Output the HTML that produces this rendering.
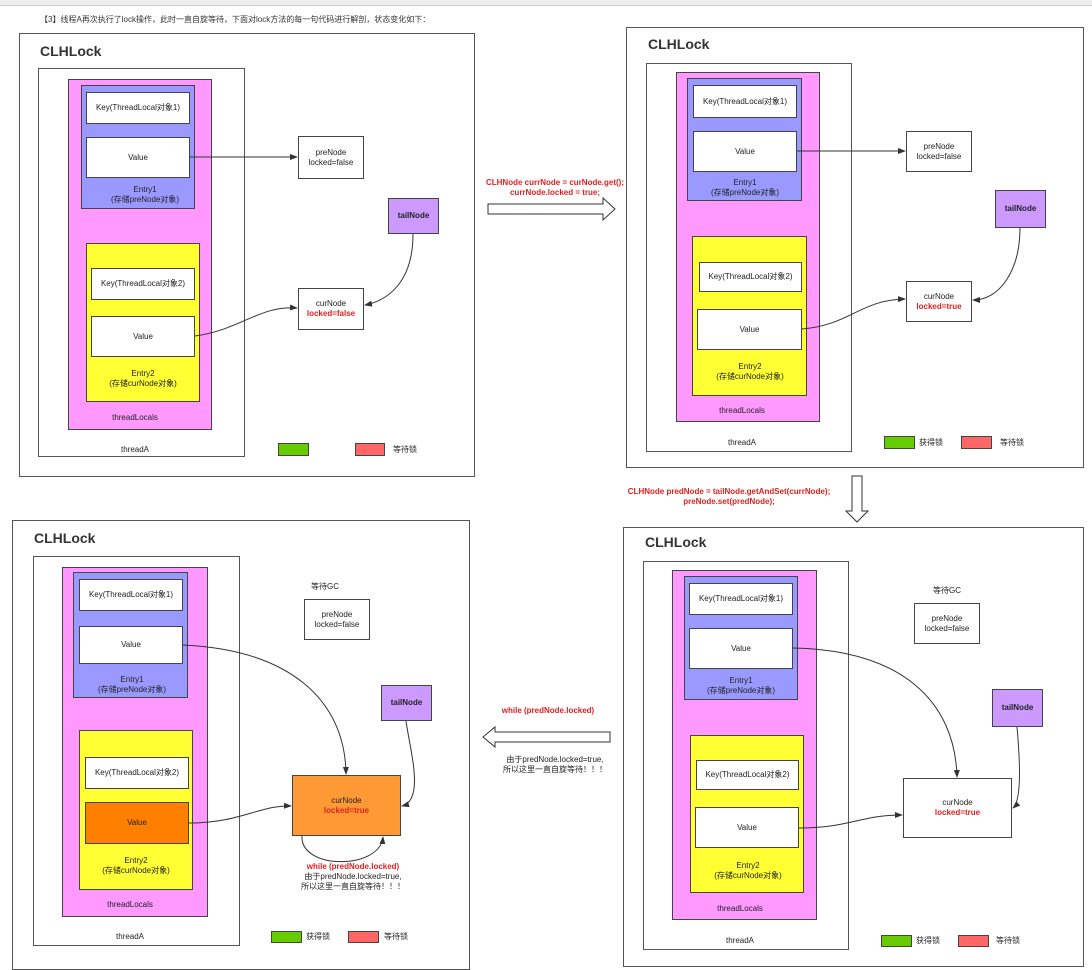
<!DOCTYPE html>
<html><head><meta charset="utf-8"><style>
body{margin:0;width:1092px;height:956px;background:#fff;position:relative;overflow:hidden;font-family:"Liberation Sans","Noto Sans CJK SC",sans-serif;color:#222}
.b{position:absolute;box-sizing:border-box;border:1px solid #444;display:flex;align-items:center;justify-content:center;text-align:center;font-size:8px;line-height:10px}
.o{border:1px solid #555;background:#fff}
.t{position:absolute;font-size:8px;line-height:10px;text-align:center;white-space:nowrap;transform:translateX(-50%)}
.h{position:absolute;font-size:14px;font-weight:bold;color:#333}
.pk{background:#ff99ff}.bl{background:#9999ff}.ye{background:#ffff33}.w{background:#fff}.pu{background:#cc99ff}
.r{color:#e02020;font-weight:bold}
svg{position:absolute;left:0;top:0}
</style></head><body>
<div style="position:absolute;left:0;top:0;width:1092px;height:5px;background:#eee;border-bottom:1px solid #ccc"></div>
<div style="position:absolute;left:40px;top:14px;font-size:8px;color:#333">【3】线程A再次执行了lock操作，此时一直自旋等待，下面对lock方法的每一句代码进行解剖，状态变化如下：</div>

<!-- Panel 1 -->
<div class="b o" style="left:19px;top:33px;width:456px;height:444px"></div>
<div class="h" style="left:40px;top:43px">CLHLock</div>
<div class="b o" style="left:38px;top:68px;width:207px;height:389px"></div>
<div class="b pk" style="left:68px;top:79px;width:144px;height:351px"></div>
<div class="b bl" style="left:81px;top:85px;width:114px;height:124px"></div>
<div class="b w" style="left:86px;top:92px;width:104px;height:32px">Key(ThreadLocal对象1)</div>
<div class="b w" style="left:86px;top:137px;width:104px;height:41px">Value</div>
<div class="t" style="left:145px;top:185px">Entry1<br>(存储preNode对象)</div>
<div class="b ye" style="left:86px;top:243px;width:114px;height:159px"></div>
<div class="b w" style="left:91px;top:268px;width:104px;height:32px">Key(ThreadLocal对象2)</div>
<div class="b w" style="left:91px;top:316px;width:104px;height:41px">Value</div>
<div class="t" style="left:143px;top:369px">Entry2<br>(存储curNode对象)</div>
<div class="t" style="left:135px;top:413px">threadLocals</div>
<div class="t" style="left:135px;top:445px">threadA</div>
<div class="b w" style="left:298px;top:136px;width:66px;height:43px"><div>preNode<br>locked=false</div></div>
<div class="b pu" style="left:388px;top:198px;width:51px;height:36px"><b>tailNode</b></div>
<div class="b w" style="left:298px;top:288px;width:66px;height:42px"><div>curNode<br><span class="r">locked=false</span></div></div>
<div class="b" style="left:278px;top:443px;width:31px;height:13px;background:#66cc00"></div>
<div class="b" style="left:355px;top:443px;width:30px;height:13px;background:#ff6666"></div>
<div class="t" style="left:405px;top:445px">等待锁</div>

<!-- Panel 2 -->
<div class="b o" style="left:626px;top:27px;width:458px;height:441px"></div>
<div class="h" style="left:648px;top:36px">CLHLock</div>
<div class="b o" style="left:646px;top:63px;width:206px;height:389px"></div>
<div class="b pk" style="left:676px;top:72px;width:144px;height:350px"></div>
<div class="b bl" style="left:687px;top:78px;width:115px;height:123px"></div>
<div class="b w" style="left:693px;top:85px;width:104px;height:33px">Key(ThreadLocal对象1)</div>
<div class="b w" style="left:693px;top:131px;width:104px;height:41px">Value</div>
<div class="t" style="left:745px;top:178px">Entry1<br>(存储preNode对象)</div>
<div class="b ye" style="left:692px;top:236px;width:115px;height:160px"></div>
<div class="b w" style="left:699px;top:262px;width:103px;height:30px">Key(ThreadLocal对象2)</div>
<div class="b w" style="left:697px;top:309px;width:105px;height:41px">Value</div>
<div class="t" style="left:750px;top:362px">Entry2<br>(存储curNode对象)</div>
<div class="t" style="left:742px;top:406px">threadLocals</div>
<div class="t" style="left:742px;top:438px">threadA</div>
<div class="b w" style="left:906px;top:131px;width:66px;height:41px"><div>preNode<br>locked=false</div></div>
<div class="b pu" style="left:995px;top:190px;width:51px;height:38px"><b>tailNode</b></div>
<div class="b w" style="left:906px;top:281px;width:66px;height:41px"><div>curNode<br><span class="r">locked=true</span></div></div>
<div class="b" style="left:884px;top:436px;width:31px;height:13px;background:#66cc00"></div>
<div class="t" style="left:931px;top:438px">获得锁</div>
<div class="b" style="left:961px;top:436px;width:31px;height:13px;background:#ff6666"></div>
<div class="t" style="left:1012px;top:438px">等待锁</div>

<div class="t r" style="left:555px;top:178px">CLHNode currNode = curNode.get();<br>currNode.locked = true;</div>
<div class="t r" style="left:729px;top:487px">CLHNode predNode = tailNode.getAndSet(currNode);<br>preNode.set(predNode);</div>
<div class="t r" style="left:548px;top:706px">while (predNode.locked)</div>
<div class="t" style="left:555px;top:755px">由于predNode.locked=true,<br>所以这里一直自旋等待！！！</div>

<!-- Panel 4 -->
<div class="b o" style="left:623px;top:527px;width:461px;height:440px"></div>
<div class="h" style="left:645px;top:534px">CLHLock</div>
<div class="b o" style="left:643px;top:561px;width:206px;height:389px"></div>
<div class="b pk" style="left:672px;top:570px;width:145px;height:350px"></div>
<div class="b bl" style="left:684px;top:576px;width:114px;height:124px"></div>
<div class="b w" style="left:689px;top:583px;width:104px;height:32px">Key(ThreadLocal对象1)</div>
<div class="b w" style="left:689px;top:628px;width:104px;height:41px">Value</div>
<div class="t" style="left:741px;top:676px">Entry1<br>(存储preNode对象)</div>
<div class="b ye" style="left:690px;top:735px;width:114px;height:158px"></div>
<div class="b w" style="left:696px;top:760px;width:103px;height:30px">Key(ThreadLocal对象2)</div>
<div class="b w" style="left:695px;top:807px;width:104px;height:41px">Value</div>
<div class="t" style="left:748px;top:861px">Entry2<br>(存储curNode对象)</div>
<div class="t" style="left:740px;top:904px">threadLocals</div>
<div class="t" style="left:740px;top:936px">threadA</div>
<div class="t" style="left:947px;top:586px">等待GC</div>
<div class="b w" style="left:914px;top:603px;width:66px;height:41px"><div>preNode<br>locked=false</div></div>
<div class="b pu" style="left:992px;top:689px;width:51px;height:38px"><b>tailNode</b></div>
<div class="b w" style="left:903px;top:778px;width:109px;height:60px"><div>curNode<br><span class="r">locked=true</span></div></div>
<div class="b" style="left:881px;top:935px;width:31px;height:12px;background:#66cc00"></div>
<div class="t" style="left:928px;top:936px">获得锁</div>
<div class="b" style="left:958px;top:935px;width:31px;height:12px;background:#ff6666"></div>
<div class="t" style="left:1008px;top:936px">等待锁</div>

<!-- Panel 3 -->
<div class="b o" style="left:12px;top:520px;width:458px;height:450px"></div>
<div class="h" style="left:34px;top:530px">CLHLock</div>
<div class="b o" style="left:33px;top:556px;width:207px;height:390px"></div>
<div class="b pk" style="left:62px;top:567px;width:146px;height:350px"></div>
<div class="b bl" style="left:73px;top:572px;width:115px;height:126px"></div>
<div class="b w" style="left:79px;top:579px;width:104px;height:32px">Key(ThreadLocal对象1)</div>
<div class="b w" style="left:79px;top:626px;width:104px;height:38px">Value</div>
<div class="t" style="left:132px;top:675px">Entry1<br>(存储preNode对象)</div>
<div class="b ye" style="left:79px;top:730px;width:114px;height:160px"></div>
<div class="b w" style="left:85px;top:757px;width:104px;height:32px">Key(ThreadLocal对象2)</div>
<div class="b" style="left:85px;top:802px;width:104px;height:42px;background:#ff8000">Value</div>
<div class="t" style="left:136px;top:856px">Entry2<br>(存储curNode对象)</div>
<div class="t" style="left:130px;top:900px">threadLocals</div>
<div class="t" style="left:130px;top:932px">threadA</div>
<div class="t" style="left:325px;top:582px">等待GC</div>
<div class="b w" style="left:304px;top:599px;width:66px;height:41px"><div>preNode<br>locked=false</div></div>
<div class="b pu" style="left:381px;top:685px;width:51px;height:36px"><b>tailNode</b></div>
<div class="b" style="left:292px;top:775px;width:109px;height:61px;background:#ff9933"><div>curNode<br><span class="r">locked=true</span></div></div>
<div class="t" style="left:353px;top:862px"><span class="r">while (predNode.locked)</span><br>由于predNode.locked=true,<br>所以这里一直自旋等待！！！</div>
<div class="b" style="left:271px;top:931px;width:31px;height:12px;background:#66cc00"></div>
<div class="t" style="left:318px;top:932px">获得锁</div>
<div class="b" style="left:348px;top:931px;width:31px;height:12px;background:#ff6666"></div>
<div class="t" style="left:396px;top:932px">等待锁</div>

<svg width="1092" height="956">
<defs><marker id="a" markerWidth="8" markerHeight="8" refX="7" refY="4" orient="auto"><path d="M0,1 L8,4 L0,7 z" fill="#333"/></marker></defs>
<g fill="none" stroke="#333" stroke-width="1" marker-end="url(#a)">
<path d="M190,157 L297,157"/>
<path d="M413,234 C413,280 390,300 365,305"/>
<path d="M195,336 C240,330 260,305 297,308"/>
<path d="M797,151 L905,151"/>
<path d="M1020,228 C1020,270 1000,300 973,300"/>
<path d="M802,329 C850,325 860,300 905,299"/>
<path d="M793,648 C900,650 955,700 957,777"/>
<path d="M1017,727 C1020,760 1022,800 1013,808"/>
<path d="M799,828 C850,828 860,815 902,815"/>
<path d="M183,645 C290,650 345,700 346,774"/>
<path d="M406,721 C410,750 425,800 402,806"/>
<path d="M189,823 C240,823 260,805 291,806"/>
<path d="M302,836 C300,870 380,870 383,837"/>
</g>
<g fill="#fff" stroke="#333" stroke-width="1">
<path d="M488,204 L603,204 L603,198 L615,209 L603,220 L603,214 L488,214 z"/>
<path d="M852,476 L862,476 L862,511 L868,511 L857,522 L846,511 L852,511 z"/>
<path d="M610,732 L495,732 L495,727 L483,737 L495,747 L495,742 L610,742 z"/>
</g>
</svg>
</body></html>
